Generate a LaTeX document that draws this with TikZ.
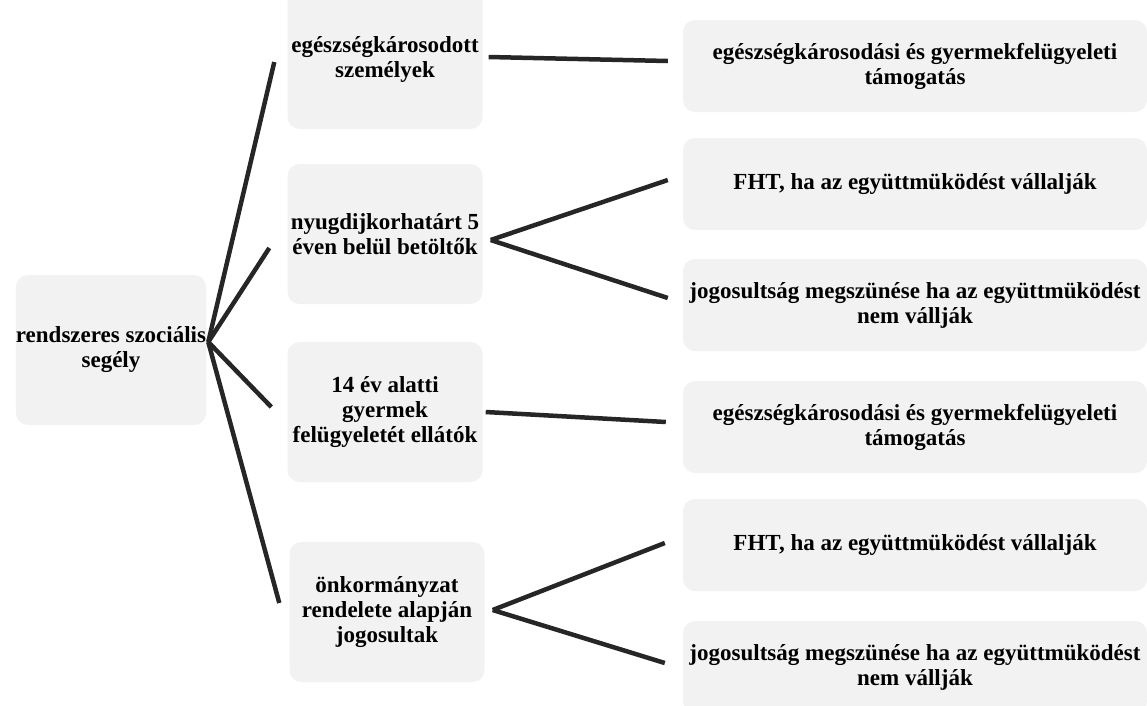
\documentclass[tikz,border=0pt]{standalone}
\usepackage{fontspec}
\setmainfont{Liberation Serif}

\tikzstyle{box} = [fill=black!5, rounded corners=12pt, align=center, inner sep=0pt,
                   font=\bfseries\fontsize{23}{25}\selectfont]
\tikzstyle{lvltwo} = [box, minimum width=195pt, minimum height=140pt]
\tikzstyle{lvlthree} = [box, minimum width=464pt, minimum height=92pt]
\tikzstyle{link} = [line width=4.5pt, draw=black!85]

\begin{document}
\begin{tikzpicture}[x=1pt,y=-1pt]
\useasboundingbox (0,0) rectangle (1147,705);

%ROOT
\node[box, minimum width=190pt, minimum height=150pt] (root) at (111,350) {rendszeres szociális\\segély};
\coordinate (hub) at ([xshift=2pt,yshift=8pt]root.east);

%LEVEL 2
\node[lvltwo] (ege) at (385,59) {egészségkárosodott\\személyek};
\node[lvltwo] (nyug) at (385,234) {nyugdijkorhatárt 5\\éven belül betöltők};
\node[lvltwo] (gyer) at (385,412) {14 év alatti\\gyermek\\felügyeletét ellátók};
\node[lvltwo] (onk) at (387,612) {önkormányzat\\rendelete alapján\\jogosultak};

\draw[link] (hub) -- ([xshift=-13pt,yshift=-3pt]ege.west);
\draw[link] (hub) -- ([xshift=-18pt,yshift=-14pt]nyug.west);
\draw[link] (hub) -- ([xshift=-16pt,yshift=5pt]gyer.west);
\draw[link] (hub) -- ([xshift=-10pt,yshift=9pt]onk.west);

%LEVEL 3
\node[lvlthree] (tam1) at (915,66) {egészségkárosodási és gyermekfelügyeleti\\támogatás};
\node[lvlthree] (fht1) at (915,184) {FHT, ha az együttmüködést vállalják};
\node[lvlthree] (jog1) at (915,305) {jogosultság megszünése ha az együttmüködést\\nem vállják};
\node[lvlthree] (tam2) at (915,427) {egészségkárosodási és gyermekfelügyeleti\\támogatás};
\node[lvlthree] (fht2) at (915,545) {FHT, ha az együttmüködést vállalják};
\node[lvlthree] (jog2) at (915,667) {jogosultság megszünése ha az együttmüködést\\nem vállják};

%EGESZSEG
\draw[link] ([xshift=6pt,yshift=2pt]ege.east) -- ([xshift=-15pt,yshift=5pt]tam1.west);

%NYUGDIJ
\coordinate (nyugtip) at ([xshift=8pt,yshift=-6pt]nyug.east);
\draw[link] (nyugtip) -- ([xshift=-15pt,yshift=4pt]fht1.west);
\draw[link] (nyugtip) -- ([xshift=-15pt,yshift=7pt]jog1.west);

%GYERMEK
\draw[link] ([xshift=3pt]gyer.east) -- ([xshift=-17pt,yshift=5pt]tam2.west);

%ONKORMANYZAT
\coordinate (onktip) at ([xshift=8pt,yshift=2pt]onk.east);
\draw[link] (onktip) -- ([xshift=-18pt,yshift=2pt]fht2.west);
\draw[link] (onktip) -- ([xshift=-18pt,yshift=4pt]jog2.west);

\end{tikzpicture}
\end{document}
